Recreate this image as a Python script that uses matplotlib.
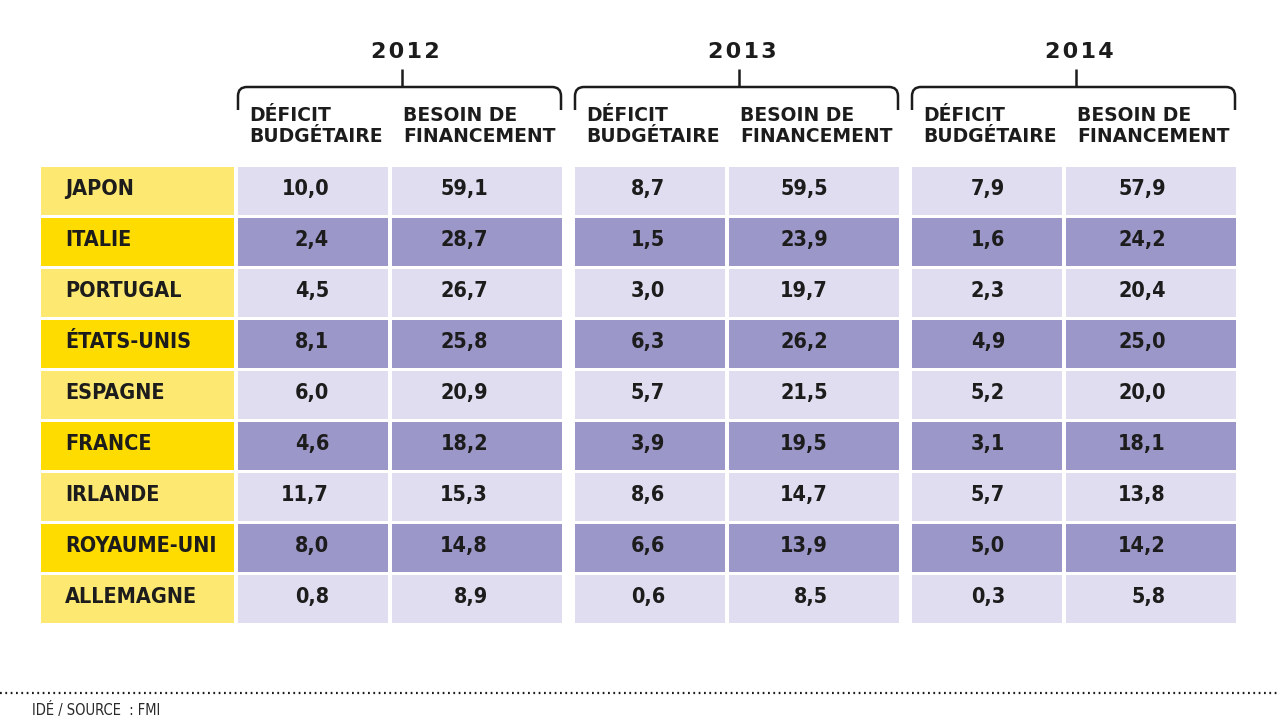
import matplotlib.pyplot as plt
from matplotlib.patches import Rectangle, PathPatch
from matplotlib.path import Path

# Data (IMF, % of GDP)
countries = ["JAPON", "ITALIE", "PORTUGAL", "ÉTATS-UNIS", "ESPAGNE",
             "FRANCE", "IRLANDE", "ROYAUME-UNI", "ALLEMAGNE"]
years = ["2012", "2013", "2014"]
deficit_2012 = [10.0, 2.4, 4.5, 8.1, 6.0, 4.6, 11.7, 8.0, 0.8]
besoin_2012 = [59.1, 28.7, 26.7, 25.8, 20.9, 18.2, 15.3, 14.8, 8.9]
deficit_2013 = [8.7, 1.5, 3.0, 6.3, 5.7, 3.9, 8.6, 6.6, 0.6]
besoin_2013 = [59.5, 23.9, 19.7, 26.2, 21.5, 19.5, 14.7, 13.9, 8.5]
deficit_2014 = [7.9, 1.6, 2.3, 4.9, 5.2, 3.1, 5.7, 5.0, 0.3]
besoin_2014 = [57.9, 24.2, 20.4, 25.0, 20.0, 18.1, 13.8, 14.2, 5.8]
col_labels = ["DÉFICIT\nBUDGÉTAIRE", "BESOIN DE\nFINANCEMENT"]
source = "IDÉ / SOURCE  : FMI"

series = [(deficit_2012, besoin_2012), (deficit_2013, besoin_2013), (deficit_2014, besoin_2014)]

# Colours
YELLOW_LIGHT = "#fde872"
YELLOW_DARK = "#ffdc00"
PURPLE_LIGHT = "#dfddef"
PURPLE_DARK = "#9c97c9"
INK = "#1c1c1c"

CELL_FONT = dict(family="DejaVu Sans", fontstretch="condensed", fontweight="bold", color=INK)
HEAD_FONT = dict(family="DejaVu Sans", fontweight="bold", color=INK)

fig = plt.figure(figsize=(12.8, 7.2), dpi=100)
ax = fig.add_axes([0, 0, 1, 1])
ax.set_xlim(0, 1280)
ax.set_ylim(720, 0)
ax.axis("off")

# layout in pixel space
row_top, row_pitch, row_h = 167, 51, 48
country_x0, country_w = 41, 193
group_x0 = [238, 575, 912]
sub_offsets = [(0, 150), (154, 170)]   # (offset, width) of each sub-column
num_right = [(91, 96), (90, 99), (93, 100)]  # right edge of numbers inside each cell

for i, name in enumerate(countries):
    y0 = row_top + i * row_pitch
    ytxt = y0 + row_h / 2 - 2
    dark = i % 2 == 1
    ax.add_patch(Rectangle((country_x0, y0), country_w, row_h, lw=0,
                           color=YELLOW_DARK if dark else YELLOW_LIGHT))
    ax.text(country_x0 + 24, ytxt, name, fontsize=15.5,
            ha="left", va="center", **CELL_FONT)
    for g, (gx, cols) in enumerate(zip(group_x0, series)):
        for k, vals in enumerate(cols):
            off, w = sub_offsets[k]
            ax.add_patch(Rectangle((gx + off, y0), w, row_h, lw=0,
                                   color=PURPLE_DARK if dark else PURPLE_LIGHT))
            ax.text(gx + off + num_right[g][k], ytxt, f"{vals[i]:.1f}".replace(".", ","),
                    fontsize=15.5, ha="right", va="center", **CELL_FONT)

# headers: years, braces, column labels
for gx, year in zip(group_x0, years):
    left, right = gx, gx + 323
    mid = (left + right) / 2 + 2
    ax.text(mid + 4, 52, "\u200a".join(year), fontsize=16,
            ha="center", va="center", **HEAD_FONT)
    r = 9
    verts = [(left, 110), (left, 87 + r), (left, 87), (left + r, 87),
             (right - r, 87), (right, 87), (right, 87 + r), (right, 110)]
    codes = [Path.MOVETO, Path.LINETO, Path.CURVE3, Path.CURVE3,
             Path.LINETO, Path.CURVE3, Path.CURVE3, Path.LINETO]
    ax.add_patch(PathPatch(Path(verts, codes), fill=False, lw=1.8, ec=INK))
    ax.plot([mid, mid], [69, 87], color=INK, lw=1.8, solid_capstyle="butt")
    for k, label in enumerate(col_labels):
        ax.text(gx + sub_offsets[k][0] + 11, 126, label, fontsize=13.5,
                ha="left", va="center", linespacing=1.15, **HEAD_FONT)

# footer
ax.plot([0, 1280], [693, 693], color=INK, lw=1.6, linestyle=(0, (0.8, 1.6)))
ax.text(32, 710, source, fontsize=10.5, ha="left", va="center",
        family="DejaVu Sans", fontstretch="condensed", color="#2a2a2a")

fig.savefig("out.png", dpi=100)
